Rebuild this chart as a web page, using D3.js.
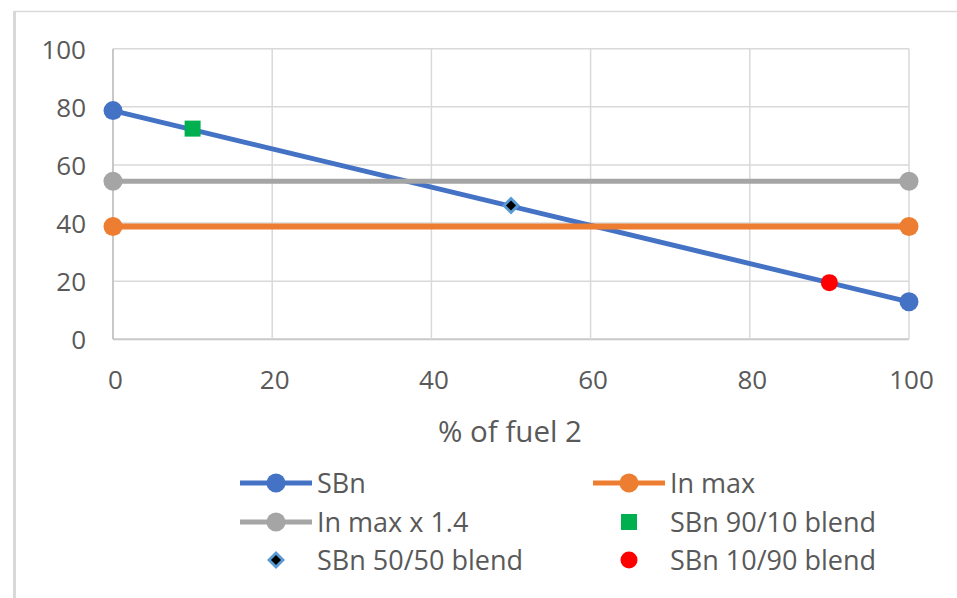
<!DOCTYPE html>
<html>
<head>
<meta charset="utf-8">
<script src="https://cdn.jsdelivr.net/npm/d3@7"></script>
<style>
  html, body { margin: 0; padding: 0; background: #ffffff; }
  svg { display: block; }
  text { font-family: "Open Sans", "Liberation Sans", sans-serif; fill: #595959; }
</style>
</head>
<body>
<svg id="chart" width="957" height="598"></svg>
<script>
// Endpoints of the straight-line series (% of fuel 2)
const xEnds = [0, 100];
const sbnValues = [78.7, 12.9];
const inMaxValues = [38.8, 38.8];
const inMax14Values = [54.4, 54.4];

// Single-point blend series
const blend9010 = [{ x: 10, y: 72.5 }];
const blend5050 = [{ x: 50, y: 46.0 }];
const blend1090 = [{ x: 90, y: 19.5 }];

// Axis ticks and labels
const xTicks = [0, 20, 40, 60, 80, 100];
const yTicks = [0, 20, 40, 60, 80, 100];
const xTitle = "% of fuel 2";

const legendItems = [
  { label: "SBn", kind: "line", color: "#4472C4" },
  { label: "In max", kind: "line", color: "#ED7D31" },
  { label: "In max x 1.4", kind: "line", color: "#A5A5A5" },
  { label: "SBn 90/10 blend", kind: "square", color: "#00B050" },
  { label: "SBn 50/50 blend", kind: "diamond", color: "#5B9BD5" },
  { label: "SBn 10/90 blend", kind: "dot", color: "#FF0000" }
];

const svg = d3.select("#chart");
const plot = { left: 113, right: 909, top: 48.7, bottom: 339.3 };

const x = d3.scaleLinear().domain([0, 100]).range([plot.left, plot.right]);
const y = d3.scaleLinear().domain([0, 100]).range([plot.bottom, plot.top]);

// Square diamond marker: light blue outer, black core
function diamond(sel, color) {
  const d = r => `M0,${-r}L${r},0L0,${r}L${-r},0Z`;
  sel.append("path").attr("d", d(9)).attr("fill", color);
  sel.append("path").attr("d", d(5)).attr("fill", "#000000");
}

// Outer chart frame (top and left edges)
svg.append("line").attr("x1", 14).attr("x2", 957).attr("y1", 11.5).attr("y2", 11.5)
  .attr("stroke", "#d9d9d9").attr("stroke-width", 1.5);
svg.append("line").attr("x1", 14.5).attr("x2", 14.5).attr("y1", 11).attr("y2", 598)
  .attr("stroke", "#d9d9d9").attr("stroke-width", 3);

// Gridlines
const grid = svg.append("g");
grid.selectAll("line.h").data(yTicks).join("line")
  .attr("x1", plot.left).attr("x2", plot.right)
  .attr("y1", d => y(d)).attr("y2", d => y(d))
  .attr("stroke", d => d === 0 ? "#c8c8c8" : "#d9d9d9").attr("stroke-width", d => d === 0 ? 2 : 1.5);
grid.selectAll("line.v").data(xTicks).join("line")
  .attr("y1", plot.top).attr("y2", plot.bottom)
  .attr("x1", d => x(d)).attr("x2", d => x(d))
  .attr("stroke", d => d === 0 ? "#c8c8c8" : "#d9d9d9").attr("stroke-width", d => d === 0 ? 2 : 1.5);

// Axis tick labels
const yAxis = d3.axisLeft(y).tickValues(yTicks).tickSize(0).tickPadding(0);
const gy = svg.append("g").attr("transform", `translate(86,0)`).call(yAxis);
gy.select(".domain").remove();
gy.selectAll("text").attr("font-size", 26).attr("fill", "#595959")
  .attr("font-family", "Open Sans").attr("dy", "0.36em").attr("x", 0);

const xAxis = d3.axisBottom(x).tickValues(xTicks).tickSize(0).tickPadding(0);
const gx = svg.append("g").attr("transform", `translate(2,${plot.bottom})`).call(xAxis);
gx.select(".domain").remove();
gx.selectAll("text").attr("font-size", 26).attr("fill", "#595959")
  .attr("font-family", "Open Sans").attr("dy", 0).attr("y", 50);

svg.append("text").attr("x", 510).attr("y", 442).attr("text-anchor", "middle")
  .attr("font-size", 29.5).text(xTitle);

// Line series
const lineGen = d3.line().x(d => x(d.x)).y(d => y(d.y));
const lineSeries = [
  { values: sbnValues, color: "#4472C4", width: 5 },
  { values: inMaxValues, color: "#ED7D31", width: 6 },
  { values: inMax14Values, color: "#A5A5A5", width: 5 }
];
lineSeries.forEach(s => {
  const pts = xEnds.map((xv, i) => ({ x: xv, y: s.values[i] }));
  svg.append("path").datum(pts).attr("d", lineGen)
    .attr("fill", "none").attr("stroke", s.color).attr("stroke-width", s.width);
  svg.append("g").selectAll("circle").data(pts).join("circle")
    .attr("cx", d => x(d.x)).attr("cy", d => y(d.y)).attr("r", 9.5)
    .attr("fill", s.color);
});

// Blend points
svg.selectAll("rect.b9010").data(blend9010).join("rect")
  .attr("x", d => x(d.x) - 8).attr("y", d => y(d.y) - 8)
  .attr("width", 16).attr("height", 16).attr("fill", "#00B050");
svg.selectAll("g.b5050").data(blend5050).join("g")
  .attr("transform", d => `translate(${x(d.x)},${y(d.y)})`)
  .each(function () { diamond(d3.select(this), "#5B9BD5"); });
svg.selectAll("circle.b1090").data(blend1090).join("circle")
  .attr("cx", d => x(d.x)).attr("cy", d => y(d.y)).attr("r", 8.5).attr("fill", "#FF0000");

// Legend (two columns, three rows)
const colX = [240, 593];
const rowY = [483, 522, 560];
const legend = svg.append("g");
legendItems.forEach((item, i) => {
  const cx = colX[i % 2];
  const cy = rowY[Math.floor(i / 2)];
  const g = legend.append("g").attr("transform", `translate(${cx},${cy})`);
  const mid = 36;
  if (item.kind === "line") {
    g.append("line").attr("x1", 0).attr("x2", 72).attr("y1", 0).attr("y2", 0)
      .attr("stroke", item.color).attr("stroke-width", 5);
    g.append("circle").attr("cx", mid).attr("cy", 0).attr("r", 9.5).attr("fill", item.color);
  } else if (item.kind === "square") {
    g.append("rect").attr("x", mid - 8).attr("y", -8).attr("width", 16).attr("height", 16)
      .attr("fill", item.color);
  } else if (item.kind === "diamond") {
    g.append("g").attr("transform", `translate(${mid},0)`).call(sel => diamond(sel, item.color));
  } else {
    g.append("circle").attr("cx", mid).attr("cy", 0).attr("r", 8.5).attr("fill", item.color);
  }
  g.append("text").attr("x", 77).attr("y", 10).attr("font-size", 27).text(item.label);
});
</script>
</body>
</html>
